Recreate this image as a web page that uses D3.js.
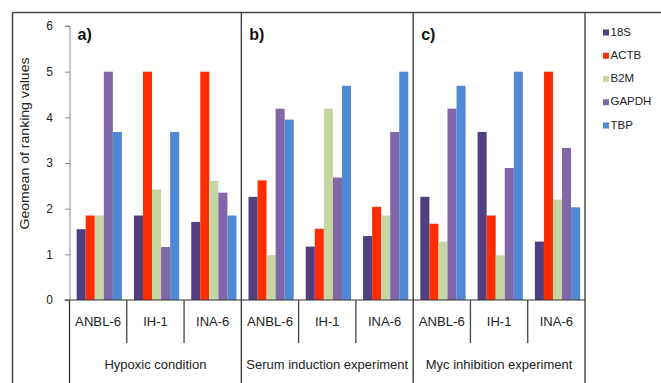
<!DOCTYPE html>
<html>
<head>
<meta charset="utf-8">
<script src="https://cdn.jsdelivr.net/npm/d3@7"></script>
<style>
  html, body { margin: 0; padding: 0; background: #fff; }
  svg { display: block; font-family: "Liberation Sans", Arial, sans-serif; }
</style>
</head>
<body>
<svg id="chart" width="661" height="383"></svg>
<script>
// Experimental conditions (outer groups) and cell lines (inner categories)
const groups = ["Hypoxic condition", "Serum induction experiment", "Myc inhibition experiment"];
const panelLabels = ["a)", "b)", "c)"];
const cellLines = ["ANBL-6", "IH-1", "INA-6"];
const seriesNames = ["18S", "ACTB", "B2M", "GAPDH", "TBP"];
const seriesColors = ["#514080", "#ff2d00", "#c5d6a0", "#8166a8", "#4f88d4"];
const yTicks = [0, 1, 2, 3, 4, 5, 6];

// Geomean of ranking values, one entry per (condition, cell line)
const v18S  = [1.55, 1.85, 1.71, 2.26, 1.17, 1.40, 2.26, 3.68, 1.28];
const vACTB = [1.85, 5.00, 5.00, 2.62, 1.56, 2.04, 1.67, 1.85, 5.00];
const vB2M  = [1.85, 2.42, 2.61, 0.98, 4.19, 1.85, 1.28, 0.98, 2.20];
const vGAPDH= [5.00, 1.16, 2.35, 4.19, 2.68, 3.68, 4.19, 2.89, 3.33];
const vTBP  = [3.68, 3.68, 1.85, 3.95, 4.69, 5.00, 4.69, 5.00, 2.03];
const seriesValues = [v18S, vACTB, vB2M, vGAPDH, vTBP];

const svg = d3.select("#chart");

const plotLeft = 69.5, plotRight = 585, yTop = 26, yBottom = 300;
const frameTop = 12.5, frameLeft = 12.5, H = 383;

// Category keys combine condition and cell line
const cats = [];
groups.forEach((g, gi) => cellLines.forEach(c => cats.push({ g, gi, c, key: g + "|" + c })));

const x = d3.scaleBand().domain(cats.map(d => d.key)).range([plotLeft, plotRight]).padding(0);
const xg = d3.scaleBand().domain(groups).range([plotLeft, plotRight]).padding(0);
const bw = x.bandwidth();
const xs = d3.scaleBand().domain(seriesNames).range([bw * 0.125, bw * 0.915]).padding(0);
const y = d3.scaleLinear().domain([0, 6]).range([yBottom, yTop]);

// Outer frame lines
const frame = svg.append("g").attr("stroke", "#444").attr("stroke-width", 1.5);
frame.append("line").attr("x1", frameLeft).attr("x2", 661).attr("y1", frameTop).attr("y2", frameTop);
frame.append("line").attr("x1", frameLeft).attr("x2", frameLeft).attr("y1", frameTop).attr("y2", H);

// Bars
const barG = svg.append("g");
seriesNames.forEach((s, si) => {
  barG.append("g").attr("fill", seriesColors[si])
    .selectAll("rect").data(cats).join("rect")
    .attr("x", d => x(d.key) + xs(s))
    .attr("width", xs.bandwidth())
    .attr("y", (d, i) => y(seriesValues[si][i]))
    .attr("height", (d, i) => y(0) - y(seriesValues[si][i]));
});

// Y axis
const yAxis = svg.append("g").attr("transform", `translate(${plotLeft + 0.5},0)`)
  .call(d3.axisLeft(y).tickValues(yTicks).tickSize(5).tickPadding(12).tickFormat(d3.format("d")));
yAxis.select(".domain").attr("stroke", "#8a8a8a").attr("d", `M-5,${yTop}H0V${yBottom}`);
yAxis.selectAll(".tick line").attr("stroke", "#8a8a8a");
yAxis.selectAll(".tick text").attr("fill", "#222").attr("font-size", 12)
  .attr("font-family", "'Liberation Sans', Arial, sans-serif");

svg.append("text")
  .attr("transform", `translate(26,${(57 + 230) / 2}) rotate(-90)`)
  .attr("text-anchor", "middle").attr("dominant-baseline", "middle")
  .attr("font-size", 13).attr("fill", "#222")
  .attr("textLength", 172).attr("lengthAdjust", "spacingAndGlyphs")
  .text("Geomean of ranking values");

// Category axis baseline
svg.append("line").attr("x1", plotLeft - 5).attr("x2", plotRight)
  .attr("y1", yBottom).attr("y2", yBottom).attr("stroke", "#333").attr("stroke-width", 1.2);

// Dividers between cell lines
svg.append("g").selectAll("line").data(cats.filter((d, i) => i % 3 !== 0)).join("line")
  .attr("x1", d => x(d.key)).attr("x2", d => x(d.key))
  .attr("y1", yBottom).attr("y2", 343)
  .attr("stroke", "#444").attr("stroke-width", 1.3);

// Condition boundaries: full height between panels, lower part at edges
const bounds = groups.map(g => xg(g)).concat([plotRight]);
svg.append("g").selectAll("line").data(bounds).join("line")
  .attr("x1", d => d).attr("x2", d => d)
  .attr("y1", (d, i) => (i === 0 ? yBottom : frameTop))
  .attr("y2", H)
  .attr("stroke", "#333").attr("stroke-width", 1.3);

// Cell line labels
svg.append("g").selectAll("text").data(cats).join("text")
  .attr("x", d => x(d.key) + bw / 2).attr("y", 323)
  .attr("text-anchor", "middle").attr("dominant-baseline", "middle")
  .attr("font-size", 13).attr("fill", "#222")
  .attr("textLength", 46).attr("lengthAdjust", "spacingAndGlyphs")
  .each(function (d) { if (d.c !== "ANBL-6") d3.select(this).attr("textLength", null); })
  .text(d => d.c);

// Condition labels
svg.append("g").selectAll("text").data(groups).join("text")
  .attr("x", d => xg(d) + xg.bandwidth() / 2).attr("y", 366)
  .attr("text-anchor", "middle").attr("dominant-baseline", "middle")
  .attr("font-size", 13).attr("fill", "#222")
  .text(d => d);

// Panel letters
svg.append("g").selectAll("text").data(groups).join("text")
  .attr("x", (d, i) => xg(d) + (i === 0 ? 8 : 8)).attr("y", 40)
  .attr("font-size", 16).attr("font-weight", "bold").attr("fill", "#111")
  .text((d, i) => panelLabels[i]);

// Legend
const legend = svg.append("g").attr("transform", "translate(603,0)");
const ly = d3.scalePoint().domain(seriesNames).range([32.5, 125.5]);
legend.selectAll("rect").data(seriesNames).join("rect")
  .attr("x", 0).attr("y", d => ly(d) - 3).attr("width", 6).attr("height", 6)
  .attr("fill", (d, i) => seriesColors[i]);
legend.selectAll("text").data(seriesNames).join("text")
  .attr("x", 7.5).attr("y", d => ly(d)).attr("dominant-baseline", "middle")
  .attr("font-size", 11.5).attr("fill", "#222")
  .text(d => d);
</script>
</body>
</html>
